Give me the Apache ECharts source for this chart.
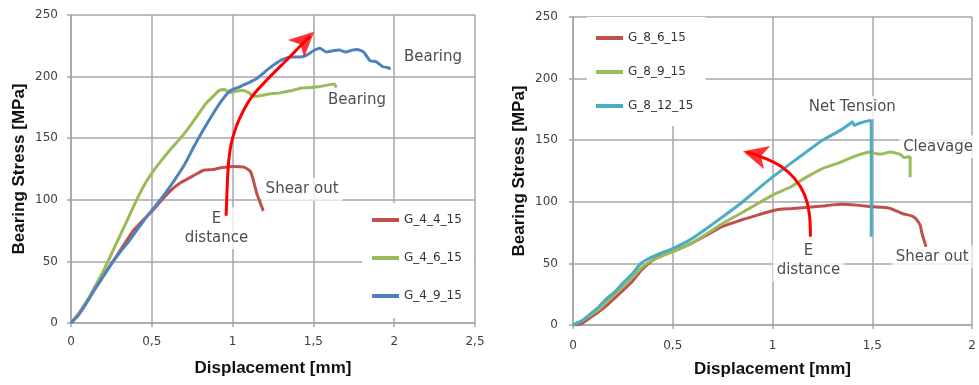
<!DOCTYPE html>
<html>
<head>
<meta charset="utf-8">
<script src="https://cdn.jsdelivr.net/npm/echarts@6/dist/echarts.min.js"></script>
<style>html,body{margin:0;padding:0;background:#fff;}#c{width:979px;height:385px;}</style>
</head>
<body>
<div id="c"></div>
<script>
// ---- Left panel data: [displacement mm, bearing stress MPa]
const G_4_4_15 = [[0,0],[0.05,8],[0.1,18],[0.15,28],[0.2,38],[0.25,48],[0.3,58],[0.386,75],[0.45,84],[0.51,92],[0.57,101],[0.63,109],[0.68,114],[0.75,119],[0.82,124],[0.87,124.5],[0.93,126],[1.0,127],[1.07,126.5],[1.11,123],[1.13,115],[1.15,105],[1.17,98],[1.19,91]];
const G_4_6_15 = [[0,0],[0.05,8],[0.1,18],[0.15,30],[0.2,42],[0.25,56],[0.3,70],[0.35,84],[0.41,101],[0.46,113.5],[0.51,123.5],[0.56,132],[0.61,140],[0.67,149],[0.72,157],[0.78,168],[0.84,179],[0.88,184],[0.92,189],[0.95,189.5],[0.98,187],[1.02,188],[1.06,189],[1.1,187],[1.13,184],[1.17,184.5],[1.21,185.5],[1.3,187],[1.36,188.5],[1.42,190.5],[1.46,191],[1.54,192],[1.6,193.5],[1.63,194],[1.64,191]];
const G_4_9_15 = [[0,0],[0.05,7],[0.1,17],[0.15,28],[0.2,38],[0.25,48],[0.3,57],[0.35,65],[0.4,74],[0.45,83],[0.51,93],[0.57,103],[0.63,114],[0.7,128],[0.76,143],[0.82,157],[0.88,170],[0.93,180],[0.98,188],[1.03,191],[1.09,194.5],[1.15,198.5],[1.21,205],[1.26,210],[1.31,214],[1.36,216],[1.42,216],[1.46,217.5],[1.5,221],[1.54,223],[1.58,220],[1.62,221],[1.66,221.5],[1.7,220],[1.74,221.5],[1.77,222],[1.81,220],[1.85,213],[1.89,212],[1.93,208],[1.97,207],[1.97,205.5]];
// ---- Right panel data
const G_8_6_15 = [[0,0],[0.04,1],[0.087,6],[0.13,11],[0.17,16],[0.21,22],[0.25,28],[0.3,36],[0.34,44],[0.38,50],[0.42,55],[0.46,57.5],[0.5,59.5],[0.59,66],[0.67,73],[0.75,80],[0.84,85],[0.92,89],[1.0,92.7],[1.04,94],[1.1,94.5],[1.17,95.4],[1.25,96.5],[1.3,97.5],[1.35,98],[1.42,97.3],[1.5,96],[1.55,95.5],[1.59,94.6],[1.65,90.5],[1.7,88.4],[1.72,86],[1.74,81],[1.75,74],[1.77,63.5]];
const G_8_9_15 = [[0,0],[0.04,3],[0.087,8],[0.13,13],[0.17,19],[0.21,25],[0.25,31],[0.3,39],[0.34,46],[0.38,51],[0.42,54],[0.46,57],[0.5,59.5],[0.59,66],[0.67,74],[0.75,82.4],[0.84,90.5],[0.92,98],[1.0,105.4],[1.09,112],[1.17,120],[1.25,127],[1.34,132],[1.42,137.5],[1.49,140.5],[1.52,139],[1.55,138.8],[1.59,140.5],[1.62,139.5],[1.64,138.5],[1.66,136],[1.69,136.5],[1.69,120]];
const G_8_12_15 = [[0,0],[0.04,3],[0.087,9],[0.13,15],[0.17,21.6],[0.21,27],[0.25,34],[0.3,42],[0.34,50],[0.38,54],[0.42,57],[0.46,59.5],[0.5,62],[0.59,69.5],[0.67,78.4],[0.75,87.8],[0.84,98.6],[0.92,109.5],[1.0,120],[1.09,131],[1.17,140.5],[1.25,150],[1.34,158],[1.39,163.5],[1.4,165],[1.41,162],[1.44,164],[1.49,166],[1.495,165.5],[1.495,71.6]];
// ---- Annotation arrows (E distance trend) and text notes
const leftArrow = [[0.96,87],[0.965,105],[0.972,125],[0.984,140],[1.0,150],[1.04,165],[1.11,182],[1.21,197],[1.335,213.5],[1.42,225],[1.48,233]];
const leftArrowHead = [[1.505,236.5]];
const rightArrow = [[1.19,71.6],[1.185,90],[1.16,106],[1.11,119],[1.04,129],[0.96,135.5],[0.89,139.5],[0.87,140.3]];
const rightArrowHead = [[0.852,141.1]];
const leftNotes = [[2.24,216,'Bearing'],[1.77,181,'Bearing'],[1.43,108.6,'Shear out'],[0.90,77,'E\ndistance']];
const rightNotes = [[1.40,176.5,'Net Tension'],[1.83,144.6,'Cleavage'],[1.80,55.4,'Shear out'],[1.18,52,'E\ndistance']];
// ---- Axes
const leftXTicks = {min:0, max:2.5, interval:0.5};
const rightXTicks = {min:0, max:2, interval:0.5};
const yTicks = {min:0, max:250, interval:50};

const RED='#c0504d', GREEN='#9bbb59', BLUE='#4f81bd', CYAN='#4bacc6', ARROW='#ff0000';
const GRID='#a6a6a6';
const tickFont = {fontFamily:'DejaVu Sans', fontSize:12, color:'#404040'};
const titleFont = {fontFamily:'Liberation Sans', fontWeight:'bold', fontSize:17, color:'#111'};

function xAxis(idx, t, gap, margin){
  return {type:'value', gridIndex:idx, min:t.min, max:t.max, interval:t.interval,
    name:'Displacement [mm]', nameLocation:'middle', nameGap:gap, nameTextStyle:titleFont,
    axisLine:{show:true, lineStyle:{color:GRID, width:1.5}},
    axisTick:{show:true, length:4, lineStyle:{color:GRID, width:1.5}},
    splitLine:{show:true, lineStyle:{color:GRID, width:1.5}},
    axisLabel:Object.assign({margin:margin, formatter:v=>String(v).replace('.',',')}, tickFont)};
}
function yAxis(idx, gap, margin){
  return {type:'value', gridIndex:idx, min:yTicks.min, max:yTicks.max, interval:yTicks.interval,
    name:'Bearing Stress [MPa]', nameLocation:'middle', nameGap:gap, nameTextStyle:titleFont,
    axisLine:{show:true, lineStyle:{color:GRID, width:1.5}},
    axisTick:{show:true, length:4, lineStyle:{color:GRID, width:1.5}},
    splitLine:{show:true, lineStyle:{color:GRID, width:1.5}},
    axisLabel:Object.assign({margin:margin}, tickFont)};
}
function curve(name, data, color, idx){
  return {name:name, type:'line', xAxisIndex:idx, yAxisIndex:idx, data:data, showSymbol:false,
    symbol:'none', z:3, lineStyle:{color:color, width:3}, itemStyle:{color:color}, smooth:0.2};
}
function arrow(data, idx){
  return {type:'line', xAxisIndex:idx, yAxisIndex:idx, data:data, showSymbol:false, symbol:'none',
    smooth:0.4, z:4, lineStyle:{color:ARROW, width:3}, silent:true};
}
function head(data, idx, rot){
  return {type:'scatter', xAxisIndex:idx, yAxisIndex:idx, data:data, symbol:'arrow',
    symbolSize:[18,25], symbolRotate:rot, z:4, itemStyle:{color:ARROW}, silent:true};
}
function notes(data, idx){
  return {type:'scatter', xAxisIndex:idx, yAxisIndex:idx, data:data, symbolSize:0, z:1, silent:true,
    label:{show:true, position:'inside', formatter:p=>p.value[2], fontFamily:'DejaVu Sans', fontSize:15,
      color:'#222', lineHeight:19, align:'center', backgroundColor:'#fff', padding:[2,4]}};
}

const chart = echarts.init(document.getElementById('c'), null, {renderer:'canvas'});
chart.setOption({
  animation:false,
  backgroundColor:'#fff',
  grid:[{left:71, right:504, top:15, bottom:62},{left:573, right:7, top:17, bottom:60}],
  xAxis:[xAxis(0, leftXTicks, 37, 13), xAxis(1, rightXTicks, 36, 15)],
  yAxis:[yAxis(0, 43, 13), yAxis(1, 45, 15)],
  legend:[
    {data:['G_4_4_15','G_4_6_15','G_4_9_15'], orient:'vertical', left:362, top:203,
     padding:[11,12,16,10], itemGap:26, itemWidth:27, itemHeight:4, icon:'rect',
     backgroundColor:'#fff', textStyle:{fontFamily:'DejaVu Sans', fontSize:12, color:'#333'}},
    {data:['G_8_6_15','G_8_9_15','G_8_12_15'], orient:'vertical', left:587, top:17,
     padding:[15,12,14,9], itemGap:22, itemWidth:27, itemHeight:4, icon:'rect',
     backgroundColor:'#fff', textStyle:{fontFamily:'DejaVu Sans', fontSize:12, color:'#333'}}
  ],
  series:[
    notes(leftNotes, 0),
    notes(rightNotes, 1),
    curve('G_4_4_15', G_4_4_15, RED, 0),
    curve('G_4_6_15', G_4_6_15, GREEN, 0),
    curve('G_4_9_15', G_4_9_15, BLUE, 0),
    curve('G_8_6_15', G_8_6_15, RED, 1),
    curve('G_8_9_15', G_8_9_15, GREEN, 1),
    curve('G_8_12_15', G_8_12_15, CYAN, 1),
    arrow(leftArrow, 0), head(leftArrowHead, 0, -47),
    arrow(rightArrow, 1), head(rightArrowHead, 1, 75)
  ]
});
</script>
</body>
</html>
